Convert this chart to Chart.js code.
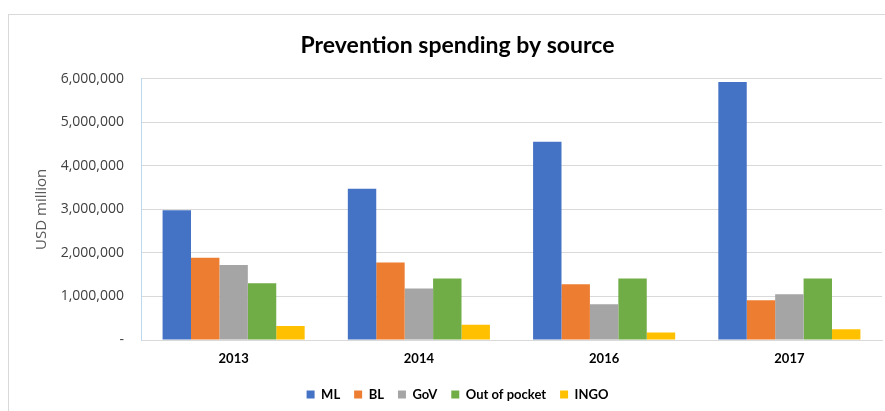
<!DOCTYPE html>
<html>
<head>
<meta charset="utf-8">
<script src="https://cdn.jsdelivr.net/npm/chart.js@4.4.0/dist/chart.umd.min.js"></script>
<style>
  html, body { margin: 0; padding: 0; background: #fff; overflow: hidden; }
  #wrap { position: relative; width: 885px; height: 411px; }
  #frame { position: absolute; left: 8px; top: 14px; width: 900px; height: 420px; border: 1px solid #d9d9d9; box-sizing: border-box; }
  canvas { position: absolute; left: 0; top: 0; }
</style>
</head>
<body>
<div id="wrap">
  <div id="frame"></div>
  <canvas id="chart" width="885" height="411"></canvas>
</div>
<script>
// spending per year, by source
const years = ['2013', '2014', '2016', '2017'];
const ml = [2980000, 3470000, 4550000, 5920000];
const bl = [1890000, 1780000, 1280000, 910000];
const gov = [1720000, 1180000, 820000, 1050000];
const outOfPocket = [1300000, 1410000, 1410000, 1410000];
const ingo = [320000, 350000, 170000, 245000];
const yTicks = [0, 1000000, 2000000, 3000000, 4000000, 5000000, 6000000];

const labelFont = "'Lato', 'Open Sans', sans-serif";
const tickFont = "'Open Sans', 'Noto Sans', sans-serif";

function series(label, data, color) {
    return { label: label, data: data, backgroundColor: color, borderWidth: 0 };
}

new Chart(document.getElementById('chart'), {
    type: 'bar',
    data: {
        labels: years,
        datasets: [
            series('ML', ml, '#4472C4'),
            series('BL', bl, '#ED7D31'),
            series('GoV', gov, '#A5A5A5'),
            series('Out of pocket', outOfPocket, '#70AD47'),
            series('INGO', ingo, '#FFC000')
        ]
    },
    options: {
        responsive: false,
        animation: false,
        layout: { padding: { top: 32, left: 33, right: 3, bottom: 0 } },
        datasets: { bar: { categoryPercentage: 0.767, barPercentage: 1.0 } },
        plugins: {
            title: {
                display: true,
                text: 'Prevention spending by source',
                color: '#000',
                font: { family: labelFont, size: 23, weight: 'bold' },
                padding: { top: 0, bottom: 19 }
            },
            legend: {
                position: 'bottom',
                labels: {
                    boxWidth: 8,
                    boxHeight: 8,
                    padding: 14,
                    color: '#000',
                    font: { family: labelFont, size: 13, weight: 'bold' }
                }
            },
            tooltip: { enabled: false }
        },
        scales: {
            x: {
                grid: { display: false },
                border: { color: '#d9d9d9' },
                ticks: {
                    color: '#000',
                    padding: 3,
                    font: { family: labelFont, size: 13, weight: 'bold' }
                },
                afterFit: s => { s.height = 34; }
            },
            y: {
                min: 0,
                max: 6000000,
                afterBuildTicks: s => { s.ticks = yTicks.map(v => ({ value: v })); },
                grid: { color: '#d9d9d9', drawTicks: false },
                border: { color: '#bdd7ee' },
                ticks: {
                    color: '#404040',
                    padding: 17,
                    font: { family: tickFont, size: 14 },
                    callback: v => v === 0 ? '-' : v.toLocaleString('en-US')
                },
                title: {
                    display: true,
                    text: 'USD million',
                    color: '#595959',
                    font: { family: tickFont, size: 15 },
                    padding: { top: 0, bottom: 4 }
                },
                afterFit: s => { s.width = 108; }
            }
        }
    }
});
</script>
</body>
</html>
